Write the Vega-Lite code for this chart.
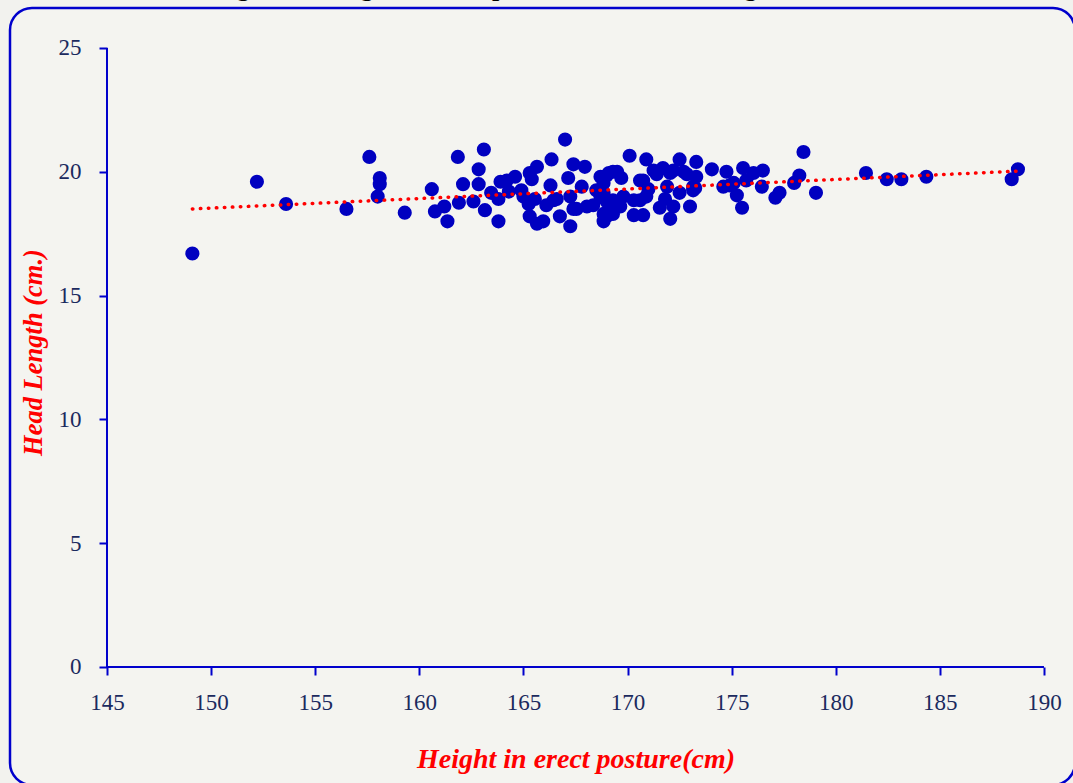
{
  "$schema": "https://vega.github.io/schema/vega-lite/v6.json",
  "width": 1065,
  "height": 777,
  "autosize": {"type": "none"},
  "padding": {"left": 10, "top": 8, "right": 0, "bottom": 0},
  "background": "#F2F2EE",
  "title": {
    "text": "Figure.6: Height in erect position and Head Length in Male",
    "font": "Liberation Serif",
    "fontSize": 26,
    "fontWeight": "bold",
    "color": "#000000",
    "anchor": "middle",
    "baseline": "alphabetic",
    "offset": -14
  },
  "config": {
    "view": {"stroke": "#0000CC", "strokeWidth": 2.5, "cornerRadius": 22, "fill": "#F4F4F0"}
  },
  "datasets": {
    "points": [
      {"height": 149.1, "head": 16.7}, {"height": 152.2, "head": 19.6}, {"height": 153.6, "head": 18.7},
      {"height": 156.5, "head": 18.5}, {"height": 157.6, "head": 20.6}, {"height": 158.1, "head": 19.75},
      {"height": 158.1, "head": 19.5}, {"height": 158.0, "head": 19.0}, {"height": 159.3, "head": 18.35},
      {"height": 160.6, "head": 19.3}, {"height": 160.75, "head": 18.4}, {"height": 161.35, "head": 18.0},
      {"height": 161.85, "head": 20.6}, {"height": 163.1, "head": 20.9}, {"height": 162.85, "head": 20.1},
      {"height": 162.1, "head": 19.5}, {"height": 162.85, "head": 19.5}, {"height": 163.9, "head": 19.6},
      {"height": 164.2, "head": 19.65}, {"height": 164.6, "head": 19.8}, {"height": 161.2, "head": 18.6},
      {"height": 161.9, "head": 18.75}, {"height": 162.6, "head": 18.8}, {"height": 163.15, "head": 18.45},
      {"height": 163.8, "head": 18.9}, {"height": 163.8, "head": 18.0}, {"height": 163.45, "head": 19.15},
      {"height": 167.0, "head": 21.3}, {"height": 166.35, "head": 20.5}, {"height": 170.1, "head": 20.65},
      {"height": 170.9, "head": 20.5}, {"height": 172.5, "head": 20.5}, {"height": 173.3, "head": 20.4},
      {"height": 174.05, "head": 20.1}, {"height": 174.75, "head": 20.0}, {"height": 165.65, "head": 20.2},
      {"height": 167.4, "head": 20.3}, {"height": 167.95, "head": 20.2}, {"height": 165.3, "head": 19.95},
      {"height": 167.15, "head": 19.75}, {"height": 169.3, "head": 20.0}, {"height": 168.7, "head": 19.8},
      {"height": 164.9, "head": 19.25}, {"height": 166.3, "head": 19.45}, {"height": 167.8, "head": 19.4},
      {"height": 168.85, "head": 19.55}, {"height": 169.7, "head": 19.75}, {"height": 170.6, "head": 19.65},
      {"height": 171.4, "head": 19.9}, {"height": 172.2, "head": 20.05}, {"height": 172.85, "head": 19.9},
      {"height": 173.25, "head": 19.35}, {"height": 174.9, "head": 19.45}, {"height": 165.25, "head": 18.7},
      {"height": 165.3, "head": 18.2}, {"height": 165.65, "head": 17.9}, {"height": 165.95, "head": 18.0},
      {"height": 166.75, "head": 18.2}, {"height": 167.25, "head": 17.8}, {"height": 166.45, "head": 18.85},
      {"height": 167.4, "head": 18.5}, {"height": 168.05, "head": 18.6}, {"height": 168.85, "head": 18.3},
      {"height": 168.85, "head": 18.0}, {"height": 169.3, "head": 18.3}, {"height": 170.3, "head": 18.25},
      {"height": 170.75, "head": 18.25}, {"height": 171.55, "head": 18.55}, {"height": 172.05, "head": 18.1},
      {"height": 172.2, "head": 18.6}, {"height": 173.0, "head": 18.6}, {"height": 170.6, "head": 18.85},
      {"height": 169.8, "head": 19.0}, {"height": 168.7, "head": 19.0}, {"height": 175.25, "head": 19.05},
      {"height": 178.45, "head": 20.8}, {"height": 175.55, "head": 20.15}, {"height": 176.05, "head": 19.95},
      {"height": 176.5, "head": 20.05}, {"height": 175.1, "head": 19.55}, {"height": 174.6, "head": 19.4},
      {"height": 175.7, "head": 19.65}, {"height": 176.45, "head": 19.4}, {"height": 175.5, "head": 18.55},
      {"height": 177.1, "head": 18.95}, {"height": 177.3, "head": 19.15}, {"height": 178.0, "head": 19.55},
      {"height": 178.25, "head": 19.85}, {"height": 179.05, "head": 19.15}, {"height": 181.45, "head": 19.95},
      {"height": 182.45, "head": 19.7}, {"height": 183.15, "head": 19.7}, {"height": 184.35, "head": 19.8},
      {"height": 188.75, "head": 20.1}, {"height": 188.45, "head": 19.7}, {"height": 165.4, "head": 19.7},
      {"height": 169.0, "head": 19.85}, {"height": 168.5, "head": 19.25}, {"height": 165.55, "head": 18.9},
      {"height": 166.6, "head": 18.9}, {"height": 167.25, "head": 19.0}, {"height": 166.1, "head": 18.65},
      {"height": 167.55, "head": 18.5}, {"height": 168.35, "head": 18.65}, {"height": 169.0, "head": 18.8},
      {"height": 169.15, "head": 18.4}, {"height": 169.1, "head": 19.95}, {"height": 169.5, "head": 20.0},
      {"height": 171.25, "head": 20.05}, {"height": 171.7, "head": 20.15}, {"height": 172.05, "head": 19.95},
      {"height": 172.7, "head": 20.0}, {"height": 170.75, "head": 19.65}, {"height": 171.9, "head": 19.4},
      {"height": 173.15, "head": 19.25}, {"height": 168.85, "head": 19.15}, {"height": 169.3, "head": 18.85},
      {"height": 170.3, "head": 18.85}, {"height": 170.9, "head": 19.0}, {"height": 172.5, "head": 19.15},
      {"height": 169.0, "head": 18.2}, {"height": 169.65, "head": 18.6}, {"height": 173.3, "head": 19.8},
      {"height": 173.15, "head": 19.4}, {"height": 164.3, "head": 19.2}, {"height": 165.0, "head": 19.0},
      {"height": 171.0, "head": 19.3}, {"height": 171.8, "head": 18.9}
    ],
    "trend": [
      {"height": 149.1, "head": 18.5},
      {"height": 188.8, "head": 20.03}
    ],
    "axisLines": [
      {"x": 145, "x2": 190, "y": 0, "y2": 0},
      {"x": 145, "x2": 145, "y": 0, "y2": 25}
    ]
  },
  "layer": [
    {
      "data": {"name": "points"},
      "mark": {"type": "circle", "size": 200, "color": "#0000C0", "opacity": 1},
      "encoding": {
        "x": {
          "field": "height",
          "type": "quantitative",
          "scale": {"domain": [140.3415, 191.49], "nice": false, "zero": false},
          "axis": {
            "values": [145, 150, 155, 160, 165, 170, 175, 180, 185, 190],
            "offset": -118,
            "domain": false,
            "grid": false,
            "tickColor": "#0000CC",
            "tickSize": 8,
            "tickWidth": 2,
            "labelFont": "Liberation Serif",
            "labelFontSize": 23,
            "labelColor": "#1B2A5E",
            "labelPadding": 16,
            "title": "Height in erect posture(cm)",
            "titleFont": "Liberation Serif",
            "titleFontSize": 28,
            "titleFontStyle": "italic",
            "titleFontWeight": "bold",
            "titleColor": "#FF0000",
            "titleX": 565.5,
            "titleY": 100,
            "titleBaseline": "alphabetic",
            "titleAlign": "center"
          }
        },
        "y": {
          "field": "head",
          "type": "quantitative",
          "scale": {"domain": [-4.766, 26.6155], "nice": false, "zero": false},
          "axis": {
            "values": [0, 5, 10, 15, 20, 25],
            "offset": -97,
            "domain": false,
            "grid": false,
            "tickColor": "#0000CC",
            "tickSize": 8,
            "tickWidth": 2,
            "labelFont": "Liberation Serif",
            "labelFontSize": 23,
            "labelColor": "#1B2A5E",
            "labelPadding": 18,
            "title": "Head Length (cm.)",
            "titleFont": "Liberation Serif",
            "titleFontSize": 26.5,
            "titleFontStyle": "italic",
            "titleFontWeight": "bold",
            "titleColor": "#FF0000",
            "titleAngle": -90,
            "titleX": -66,
            "titleY": 344,
            "titleBaseline": "alphabetic",
            "titleAlign": "center"
          }
        }
      }
    },
    {
      "data": {"name": "trend"},
      "mark": {"type": "line", "color": "#FF0000", "strokeWidth": 3.5, "strokeDash": [0.5, 7.5], "strokeCap": "round"},
      "encoding": {
        "x": {"field": "height", "type": "quantitative"},
        "y": {"field": "head", "type": "quantitative"}
      }
    },
    {
      "data": {"name": "axisLines"},
      "mark": {"type": "rule", "color": "#0000CC", "strokeWidth": 2},
      "encoding": {
        "x": {"field": "x", "type": "quantitative"},
        "x2": {"field": "x2"},
        "y": {"field": "y", "type": "quantitative"},
        "y2": {"field": "y2"}
      }
    }
  ]
}
